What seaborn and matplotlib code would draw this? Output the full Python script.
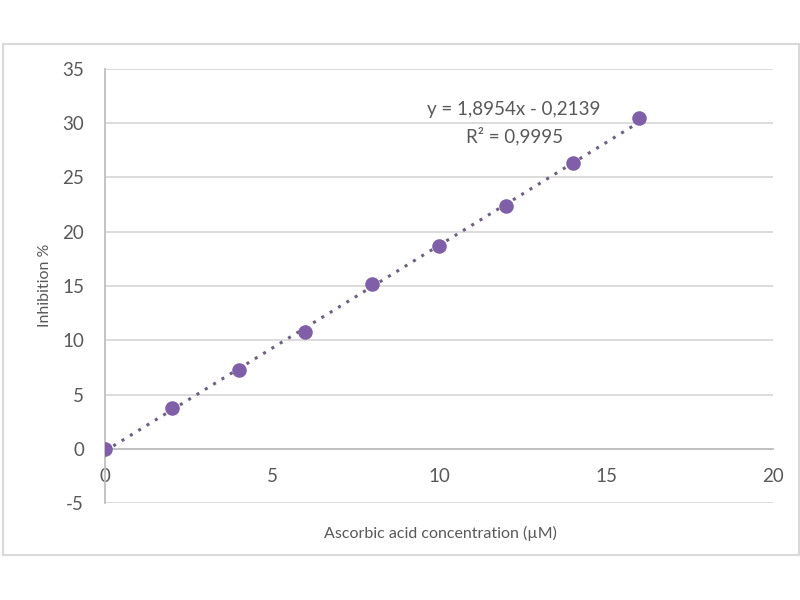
import matplotlib
matplotlib.use("Agg")
import matplotlib.pyplot as plt
import seaborn as sns
import numpy as np
import pandas as pd
from matplotlib.patches import Rectangle

concentration = [0, 2, 4, 6, 8, 10, 12, 14, 16]
inhibition = [0.0, 3.75, 7.25, 10.75, 15.2, 18.65, 22.35, 26.3, 30.45]
slope = 1.8954
intercept = -0.2139
r2_text = "R² = 0,9995"
eq_text = "y = 1,8954x - 0,2139"
x_ticks = [0, 5, 10, 15, 20]
y_ticks = [-5, 0, 5, 10, 15, 20, 25, 30, 35]

sns.set_theme(style="white")
plt.rcParams['font.family'] = ['Lato', 'DejaVu Sans']
plt.rcParams['axes.unicode_minus'] = False

df = pd.DataFrame({"conc": concentration, "inh": inhibition})

fig = plt.figure(figsize=(8, 6), dpi=100)
ax = fig.add_axes([105/800, 1-503/600, (773-105)/800, (503-69)/600])

# outer chart border
fig.patches.append(Rectangle((3/800, 1-555/600), (799-3)/800, (555-44)/600,
                             transform=fig.transFigure, fill=False,
                             edgecolor="#d9d9d9", linewidth=1.5))

# trendline
xf = np.array([min(concentration), max(concentration)])
ax.plot(xf, slope*xf + intercept, color="#6f5f80", linestyle=(0, (1, 2.2)),
        linewidth=2.2, zorder=2)

sns.scatterplot(data=df, x="conc", y="inh", ax=ax, color="#7f5fa8",
                s=110, edgecolor="#7f5fa8", linewidth=0, zorder=3)

ax.set_xlim(0, 20)
ax.set_ylim(-5, 35)
ax.set_xticks(x_ticks)
ax.set_yticks(y_ticks)
ax.grid(axis="y", color="#d9d9d9", linewidth=1.3)
ax.grid(axis="x", visible=False)
for s in ["top", "right"]:
    ax.spines[s].set_visible(False)
ax.spines["bottom"].set_position(("data", 0))
ax.spines["bottom"].set_color("#bfbfbf")
ax.spines["bottom"].set_linewidth(1.3)
ax.spines["left"].set_color("#bfbfbf")
ax.spines["left"].set_linewidth(1.3)
ax.tick_params(axis="both", length=0, labelsize=13.5, labelcolor="#595959")
ax.tick_params(axis="x", pad=14)
ax.tick_params(axis="y", pad=15)
ax.set_axisbelow(True)

ax.set_xlabel("")
ax.set_ylabel("")
fig.text(440/800, 1-533/600, "Ascorbic acid concentration (µM)", ha="center",
         va="center", fontsize=11.5, color="#595959")
fig.text(45/800, 1-285/600, "Inhibition %", ha="center", va="center",
         rotation=90, fontsize=11.5, color="#595959")

ax.text(12.25, 31.3, eq_text, ha="center", va="center", fontsize=13.5,
        color="#595959")
ax.text(12.25, 28.8, r2_text, ha="center", va="center", fontsize=13.5,
        color="#595959")

fig.savefig("out.png", dpi=100)
